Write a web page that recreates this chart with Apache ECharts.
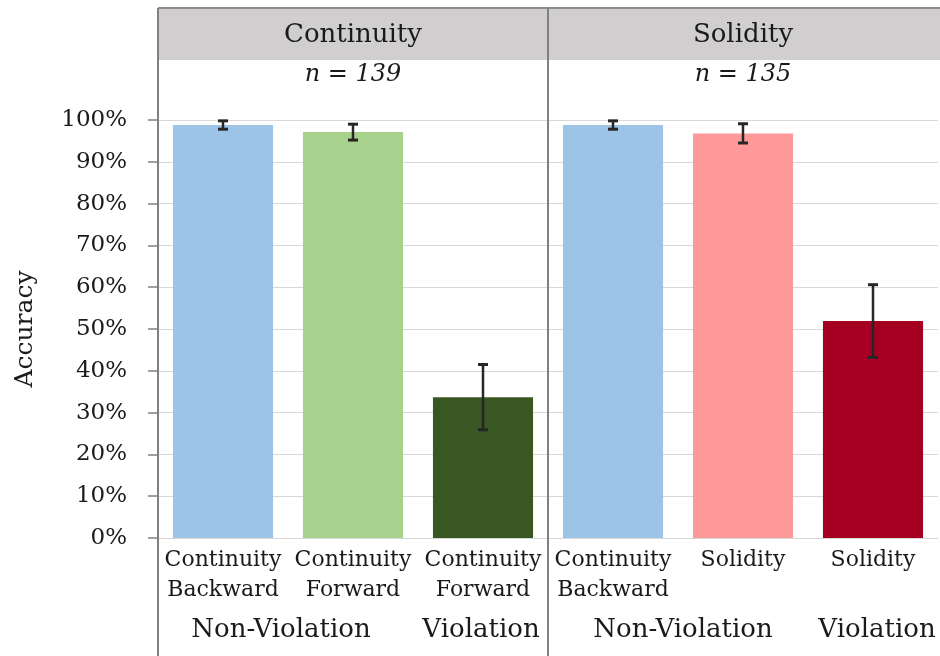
<!DOCTYPE html>
<html>
<head>
<meta charset="UTF-8">
<title>Accuracy</title>
<script src="https://cdn.jsdelivr.net/npm/echarts@6/dist/echarts.min.js"></script>
<style>
  html, body { margin: 0; padding: 0; background: #fff; }
</style>
</head>
<body>
	<div id="container" style="width:940px;height:656px;"></div>
	<script type="text/javascript">
	// panel 1: Continuity
	var contCats = ['Continuity\nBackward', 'Continuity\nForward', 'Continuity\nForward'];
	var contVals = [98.8, 97.1, 33.7];
	var contErr = [1.0, 1.9, 7.8];
	// panel 2: Solidity
	var solCats = ['Continuity\nBackward', 'Solidity', 'Solidity'];
	var solVals = [98.8, 96.8, 51.9];
	var solErr = [1.0, 2.3, 8.7];

	var yTicks = [0, 100, 10];   // min, max, step
	var panelTitles = ['Continuity', 'Solidity'];
	var panelN = ['n = 139', 'n = 135'];
	var groupLabels = ['Non-Violation', 'Violation'];

	var contColors = ['#9DC3E6', '#A9D18E', '#385723'];
	var solColors = ['#9DC3E6', '#FF9999', '#A50021'];

	var font = 'DejaVu Serif';
	var txt = '#1a1a1a';

	var dom = document.getElementById("container");
	var myChart = echarts.init(dom);

	function barData(vals, colors) {
		var out = [];
		for (var i = 0; i < vals.length; i++) {
			out.push({ value: vals[i], itemStyle: { color: colors[i] } });
		}
		return out;
	}

	function errData(vals, errs) {
		var out = [];
		for (var i = 0; i < vals.length; i++) {
			out.push([i, vals[i], errs[i]]);
		}
		return out;
	}

	function renderErr(params, api) {
		var x = api.value(0);
		var v = api.value(1);
		var e = api.value(2);
		var top = api.coord([x, v + e]);
		var bot = api.coord([x, v - e]);
		var hw = 5;
		var st = { stroke: '#262626', lineWidth: 2.5 };
		return {
			type: 'group',
			children: [
				{ type: 'line', shape: { x1: top[0], y1: top[1], x2: bot[0], y2: bot[1] }, style: st },
				{ type: 'line', shape: { x1: top[0] - hw, y1: top[1], x2: top[0] + hw, y2: top[1] }, style: { stroke: '#262626', lineWidth: 3 } },
				{ type: 'line', shape: { x1: bot[0] - hw, y1: bot[1], x2: bot[0] + hw, y2: bot[1] }, style: { stroke: '#262626', lineWidth: 3 } }
			]
		};
	}

	function xAxisFor(idx, cats) {
		return {
			type: 'category',
			gridIndex: idx,
			data: cats,
			axisLine: { show: true, lineStyle: { color: '#D9D9D9', width: 1 } },
			axisTick: { show: false },
			axisLabel: {
				interval: 0,
				fontFamily: font,
				fontSize: 22,
				color: txt,
				lineHeight: 30,
				margin: 7
			}
		};
	}

	function yAxisFor(idx) {
		return {
			type: 'value',
			gridIndex: idx,
			min: yTicks[0],
			max: yTicks[1],
			interval: yTicks[2],
			name: idx === 0 ? 'Accuracy' : '',
			nameLocation: 'middle',
			nameGap: 120,
			nameTextStyle: { fontFamily: font, fontSize: 25, color: txt },
			axisLine: { show: false },
			axisTick: { show: idx === 0, length: 10, lineStyle: { color: '#808080', width: 1.5 } },
			axisLabel: {
				show: idx === 0,
				formatter: '{value}%',
				fontFamily: font,
				fontSize: 23,
				color: txt,
				margin: 31
			},
			splitLine: { show: true, lineStyle: { color: '#D9D9D9', width: 1 } }
		};
	}

	var graphics = [
		{ type: 'rect', shape: { x: 158, y: 9, width: 782, height: 51 }, style: { fill: '#D0CECE' }, z: 0 },
		{ type: 'line', shape: { x1: 158, y1: 8, x2: 940, y2: 8 }, style: { stroke: '#8C8C8C', lineWidth: 2 }, z: 5 },
		{ type: 'line', shape: { x1: 158, y1: 8, x2: 158, y2: 656 }, style: { stroke: '#808080', lineWidth: 2 }, z: 5 },
		{ type: 'line', shape: { x1: 548, y1: 8, x2: 548, y2: 656 }, style: { stroke: '#808080', lineWidth: 2 }, z: 5 }
	];
	var centers = [353, 743];
	for (var p = 0; p < 2; p++) {
		graphics.push({
			type: 'text', x: centers[p], y: 35, z: 6,
			style: { text: panelTitles[p], fontFamily: font, fontSize: 26, fill: txt, align: 'center', verticalAlign: 'middle' }
		});
		graphics.push({
			type: 'text', x: centers[p], y: 75, z: 6,
			style: { text: panelN[p], fontFamily: font, fontStyle: 'italic', fontSize: 24, fill: txt, align: 'center', verticalAlign: 'middle' }
		});
	}
	var groupPos = [[281, 481], [683, 877]];
	for (var p = 0; p < 2; p++) {
		for (var g = 0; g < 2; g++) {
			graphics.push({
				type: 'text', x: groupPos[p][g], y: 630, z: 6,
				style: { text: groupLabels[g], fontFamily: font, fontSize: 26, fill: txt, align: 'center', verticalAlign: 'middle' }
			});
		}
	}

	var option = {
		animation: false,
		backgroundColor: '#fff',
		grid: [
			{ left: 158, width: 390, top: 120, bottom: 118 },
			{ left: 548, width: 390, top: 120, bottom: 118 }
		],
		xAxis: [xAxisFor(0, contCats), xAxisFor(1, solCats)],
		yAxis: [yAxisFor(0), yAxisFor(1)],
		graphic: graphics,
		series: [
			{
				type: 'bar', xAxisIndex: 0, yAxisIndex: 0,
				barWidth: '77%',
				data: barData(contVals, contColors)
			},
			{
				type: 'bar', xAxisIndex: 1, yAxisIndex: 1,
				barWidth: '77%',
				data: barData(solVals, solColors)
			},
			{
				type: 'custom', xAxisIndex: 0, yAxisIndex: 0,
				renderItem: renderErr, z: 10,
				encode: { x: 0, y: 1 },
				data: errData(contVals, contErr)
			},
			{
				type: 'custom', xAxisIndex: 1, yAxisIndex: 1,
				renderItem: renderErr, z: 10,
				encode: { x: 0, y: 1 },
				data: errData(solVals, solErr)
			}
		]
	};

	myChart.setOption(option);
	</script>
</body>
</html>
